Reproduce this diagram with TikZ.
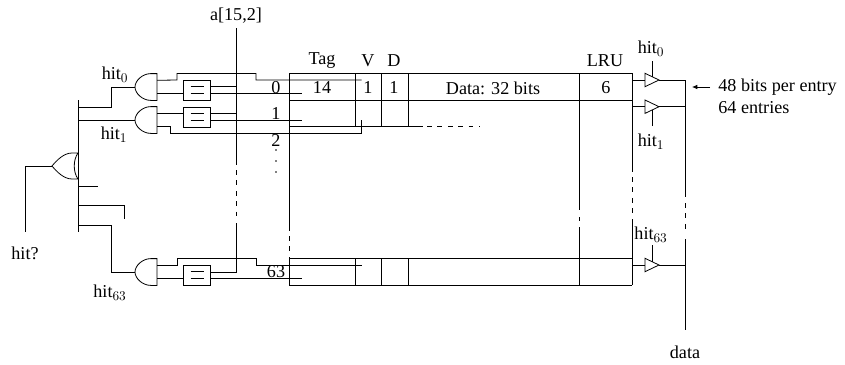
\documentclass[tikz,border=0pt]{standalone}
\usepackage{fontspec}
\setmainfont{Liberation Serif}
\usetikzlibrary{calc,arrows.meta}
\tikzset{
    eq-box/.style={draw, minimum width=26.5*0.75pt, minimum height=20*0.75pt, inner sep=0pt},
    lbl/.style={font=\fontsize{13.6pt}{16pt}\selectfont, inner sep=0pt},
    gap/.style={dash pattern=on 3.6pt off 4.2pt}
}
% gate at (x,y): name, x of the back, y of the centre
\newcommand{\andgate}[3]{
    \draw (157,#3-13.4) -- (151,#3-13.4) .. controls (142,#3-13.4) and (135,#3-6) .. (135,#3)
        .. controls (135,#3+6) and (142,#3+13.4) .. (151,#3+13.4) -- (157,#3+13.4) -- cycle;
    \coordinate (#1-in) at (135,#3);
    \coordinate (#1-up) at (157,#3-6.7);
    \coordinate (#1-dn) at (157,#3+6.7);
}
% buffer: name, y of the centre, y where the enable wire starts
\newcommand{\tribuf}[3]{
    \draw (645,#2-6.7) -- (659,#2) -- (645,#2+6.7) -- cycle;
    \coordinate (#1-in) at (645,#2);
    \coordinate (#1-out) at (659,#2);
    \coordinate (#1-en) at (652,#3);
    \coordinate (#1-pin) at (652,{#2+(#3>#2?3.4:-3.4)});
    \draw (632,#2) -- (#1-in);
    \draw (#1-out) -- (685,#2);
    \draw (#1-en) -- (#1-pin);
}
\newcommand{\eqbars}[1]{
    \draw ($(#1.center)+(-6.5,-3.3)$) -- +(13,0);
    \draw ($(#1.center)+(-6.5,3.3)$) -- +(13,0);
}
\begin{document}
\begin{tikzpicture}[x=0.75pt, y=-0.75pt, line width=0.6pt]
    \useasboundingbox (0,0) rectangle (845,364);

    % address line
    \node[lbl] (addr) at (236,16) {a[15,2]};
    \draw (236.5,28) -- (236.5,165);
    \draw[gap] (236.5,170) -- (236.5,220);
    \draw (236.5,223) -- (236.5,272);

    % gates and comparators
    \andgate{and0}{135}{87}
    \andgate{and1}{135}{120}
    \andgate{and63}{135}{272}
    \node[eq-box] (eq0) at (197,90) {};
    \node[eq-box] (eq1) at (197,117) {};
    \node[eq-box] (eq63) at (197,275) {};
    \eqbars{eq0}
    \eqbars{eq1}
    \eqbars{eq63}

    % row 0
    \draw (and0-up) -- (177,80) -- (177,73.5) -- (256,73.5) -- (256,80) -- (361.5,80);
    \draw (and0-dn) -- (183.5,93.7);
    \draw (210.5,86.7) -- (236.5,86.7);
    \draw (210.5,93.7) -- (302,93.7);
    % row 1
    \draw (and1-up) -- (183.5,113.3);
    \draw (and1-dn) -- (170,126.7) -- (170,133) -- (361.5,133) -- (361.5,120);
    \draw (210.5,113.3) -- (236.5,113.3);
    \draw (210.5,120) -- (302,120);
    % row 63
    \draw (and63-up) -- (177,265.3) -- (177,258.5) -- (256,258.5) -- (256,265.3) -- (361.5,265.3);
    \draw (and63-dn) -- (183.5,278.7);
    \draw (210.5,272) -- (236.5,272);
    \draw (210.5,278.7) -- (302,278.7);

    % hit bus and or gate
    \draw (78,100) -- (78,232);
    \draw (78,107) -- (111,107) -- (111,87) -- (and0-in);
    \draw (78,120) -- (and1-in);
    \draw (78,186) -- (98,186);
    \draw (78,205) -- (124,205) -- (124,219);
    \draw (78,225.5) -- (111,225.5) -- (111,272) -- (and63-in);
    \draw (78,153) -- (72,153) .. controls (64,153) and (57,160) .. (52,166)
        .. controls (57,172) and (64,179) .. (72,179) -- (78,179)
        .. controls (73,172) and (73,160) .. (78,153);
    \draw (52,166) -- (25,166) -- (25,232);

    % table
    \draw (289,73.4) -- (632,73.4);
    \draw (289,100) -- (632,100);
    \draw (289,126.7) -- (423,126.7);
    \draw[gap] (427,126.7) -- (480,126.7);
    \draw (289,258.5) -- (632,258.5);
    \draw (289,285) -- (632,285);
    \draw (289,73.4) -- (289,231);
    \draw[gap] (289,236) -- (289,254);
    \draw (289,257) -- (289,285);
    \draw (355,73.4) -- (355,126.7);
    \draw (381.5,73.4) -- (381.5,126.7);
    \draw (408,73.4) -- (408,126.7);
    \draw (355,258.5) -- (355,285);
    \draw (381.5,258.5) -- (381.5,285);
    \draw (408,258.5) -- (408,285);
    \draw (579.5,73.4) -- (579.5,210);
    \draw (579.5,217) -- (579.5,221);
    \draw (579.5,227) -- (579.5,285);
    \draw (632,73.4) -- (632,172);
    \draw[gap] (632,177) -- (632,216);
    \draw (632,219) -- (632,285);

    % buffers and data line
    \tribuf{buf0}{80}{61}
    \tribuf{buf1}{106.7}{126}
    \tribuf{buf63}{265}{245}
    \draw (685,80) -- (685,197);
    \draw[gap] (685,203) -- (685,233);
    \draw (685,239) -- (685,330);

    \node[lbl] (hitA) at (115,75) {hit$_0$};
    \node[lbl] (hitB) at (114,135) {hit$_1$};
    \node[lbl] (hitC) at (110,293) {hit$_{63}$};
    \node[lbl] (hitq) at (25,253) {hit?};
    \node[lbl] (idxA) at (276,88) {0};
    \node[lbl] (idxB) at (276,114) {1};
    \node[lbl] (idxC) at (276,140) {2};
    \node[lbl] (idxD) at (276,272) {63};
    \fill (276,150) circle (0.6pt);
    \fill (276,161) circle (0.6pt);
    \fill (276,172) circle (0.6pt);
    \node[lbl] (tag) at (322,61) {Tag};
    \node[lbl] (valid) at (368,61) {V};
    \node[lbl] (dirty) at (394,61) {D};
    \node[lbl] (lru) at (605,61) {LRU};
    \node[lbl] (tagbits) at (322,88) {14};
    \node[lbl] (vbits) at (368,88) {1};
    \node[lbl] (dbits) at (394,88) {1};
    \node[lbl] (databits) at (493,88) {Data: 32 bits};
    \node[lbl] (lrubits) at (606,88) {6};
    \node[lbl] (enA) at (651,49) {hit$_0$};
    \node[lbl] (enB) at (651,142) {hit$_1$};
    \node[lbl] (enC) at (651,235) {hit$_{63}$};
    \node[lbl] (data) at (685,352) {data};
    \node[lbl, anchor=west] (size) at (718,87) {48 bits per entry};
    \node[lbl, anchor=west] (count) at (718,108) {64 entries};
    \draw[-{Latex[length=4pt,width=3.5pt]}] (710,87) -- (692,87);
\end{tikzpicture}
\end{document}
